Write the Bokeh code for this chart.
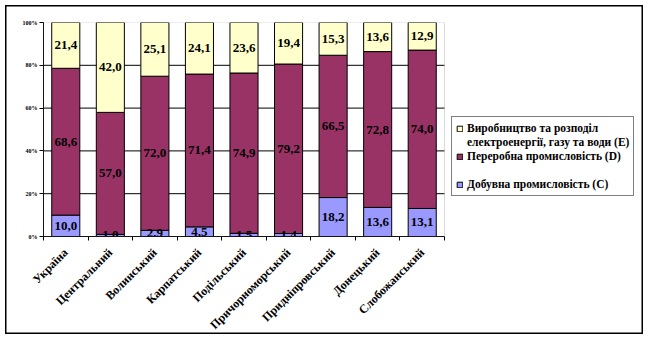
import math
from bokeh.plotting import figure
from bokeh.models import (ColumnDataSource, Range1d, FixedTicker, Legend, LegendItem,
                          BoxAnnotation, InlineStyleSheet)
from bokeh.core.properties import value
from bokeh.embed import file_html
from bokeh.resources import INLINE

regions = ["Україна", "Центральний", "Волинський", "Карпатський", "Подільський",
           "Причорноморський", "Придніпровський", "Донецький", "Слобожанський"]
mining_c = [10.0, 1.0, 2.9, 4.5, 1.5, 1.4, 18.2, 13.6, 13.1]
processing_d = [68.6, 57.0, 72.0, 71.4, 74.9, 79.2, 66.5, 72.8, 74.0]
energy_e = [21.4, 42.0, 25.1, 24.1, 23.6, 19.4, 15.3, 13.6, 12.9]
y_ticks = [0, 20, 40, 60, 80, 100]
y_tick_labels = ["0%", "20%", "40%", "60%", "80%", "100%"]
grid_levels = [20, 40, 60, 80]
legend_labels = ["Виробництво та розподіл", "електроенергії, газу та води (E)",
                 "Переробна промисловість (D)", "Добувна промисловість (C)"]

COL_C = "#9999FF"
COL_D = "#993366"
COL_E = "#FFFFCC"
FONT = "'Liberation Serif', serif"

n = len(regions)
idx = list(range(n))
tot = [c + d + e for c, d, e in zip(mining_c, processing_d, energy_e)]
pc = [c / t * 100 for c, t in zip(mining_c, tot)]
pd_ = [d / t * 100 for d, t in zip(processing_d, tot)]
pe = [e / t * 100 for e, t in zip(energy_e, tot)]

def fmt(v):
    return f"{v:.1f}".replace(".", ",")

src = ColumnDataSource(dict(
    x=idx,
    c0=[0] * n, c1=pc,
    d0=pc, d1=[a + b for a, b in zip(pc, pd_)],
    e0=[a + b for a, b in zip(pc, pd_)], e1=[a + b + c for a, b, c in zip(pc, pd_, pe)],
    cm=[a / 2 for a in pc],
    dm=[a + b / 2 for a, b in zip(pc, pd_)],
    em=[a + b + c / 2 for a, b, c in zip(pc, pd_, pe)],
    ct=[fmt(v) for v in mining_c],
    dt=[fmt(v) for v in processing_d],
    et=[fmt(v) for v in energy_e],
))

W, H = 648, 339
left_px, plot_right_px, frame_right_px = 43, 444, 639
cat_px = (plot_right_px - left_px) / n
x_end = -0.5 + (frame_right_px - left_px) / cat_px

p = figure(width=W, height=H, x_range=Range1d(-0.5, x_end),
           y_range=Range1d(0, 100), output_backend="svg", toolbar_location=None,
           min_border_left=left_px, min_border_right=W - frame_right_px,
           min_border_top=22, min_border_bottom=103)
p.background_fill_color = "white"
p.border_fill_color = "white"
p.border_fill_alpha = 0
p.outline_line_color = None
# outer chart border drawn by the figure's own element (canvas outside frame is transparent)
p.stylesheets = [InlineStyleSheet(css=(
    ":host { background-color: white; "
    "box-shadow: inset 0 0 0 5px white, inset 0 0 0 6.5px black; }"))]
p.styles = {"background-color": "white",
            "box-shadow": "inset 0 0 0 5px white, inset 0 0 0 6.5px black"}

# grid lines within the plot area
p.segment(x0=[-0.5] * len(grid_levels), x1=[n - 0.5] * len(grid_levels),
          y0=grid_levels, y1=grid_levels, line_color="black", line_width=1)

bw = 0.63
rc = p.vbar(x="x", bottom="c0", top="c1", width=bw, source=src, fill_color=COL_C,
            line_color="black", line_width=1)
rd = p.vbar(x="x", bottom="d0", top="d1", width=bw, source=src, fill_color=COL_D,
            line_color="black", line_width=1)
re = p.vbar(x="x", bottom="e0", top="e1", width=bw, source=src, fill_color=COL_E,
            line_color="black", line_width=1)
blank = p.scatter(x=[], y=[], fill_alpha=0, line_alpha=0)

for ycol, tcol in (("cm", "ct"), ("dm", "dt"), ("em", "et")):
    p.text(x="x", y=ycol, text=tcol, source=src, text_align="center",
           text_baseline="middle", text_font=value(FONT), text_font_style="bold",
           text_font_size="13px", text_color="black")

# plot-area border (top/right grey)
p.add_layout(BoxAnnotation(left=-0.5, right=n - 0.5, bottom=0, top=100,
                           fill_alpha=0, line_color="#808080", line_width=1))

p.xgrid.visible = False
p.ygrid.visible = False

xa = p.xaxis[0]
xa.bounds = (-0.5, n - 0.5)
xa.ticker = FixedTicker(ticks=idx, minor_ticks=[i - 0.5 for i in range(n + 1)])
xa.major_label_overrides = {i: r for i, r in enumerate(regions)}
xa.major_tick_line_color = None
xa.major_tick_out = 4
xa.major_tick_in = 0
xa.minor_tick_line_color = "black"
xa.minor_tick_out = 4
xa.minor_tick_in = 0
xa.axis_line_color = "black"
xa.major_label_orientation = math.pi / 4
xa.major_label_text_font = FONT
xa.major_label_text_font_style = "bold"
xa.major_label_text_font_size = "12px"
xa.major_label_text_color = "black"
xa.major_label_standoff = 10

ya = p.yaxis[0]
ya.ticker = FixedTicker(ticks=y_ticks)
ya.major_label_overrides = {t: l for t, l in zip(y_ticks, y_tick_labels)}
ya.major_tick_out = 4
ya.major_tick_in = 0
ya.major_tick_line_color = "black"
ya.minor_tick_line_color = None
ya.axis_line_color = "black"
ya.major_label_text_font = FONT
ya.major_label_text_font_style = "bold"
ya.major_label_text_font_size = "6px"
ya.major_label_text_color = "black"
ya.major_label_standoff = 2

legend = Legend(items=[
    LegendItem(label=legend_labels[0], renderers=[re]),
    LegendItem(label=legend_labels[1], renderers=[blank]),
    LegendItem(label=legend_labels[2], renderers=[rd]),
    LegendItem(label=" ", renderers=[blank]),
    LegendItem(label=legend_labels[3], renderers=[rc]),
], location=(408, 40))
legend.label_text_font = FONT
legend.label_text_font_style = "bold"
legend.label_text_font_size = "11.5px"
legend.label_text_color = "black"
legend.label_height = 14
legend.glyph_height = 7
legend.glyph_width = 7
legend.label_standoff = 4
legend.spacing = 0
legend.padding = 4
legend.margin = 0
legend.border_line_color = "black"
legend.border_line_width = 1
legend.background_fill_color = "white"
legend.background_fill_alpha = 1
p.add_layout(legend, "center")

open("out.html", "w").write(file_html(p, INLINE))
